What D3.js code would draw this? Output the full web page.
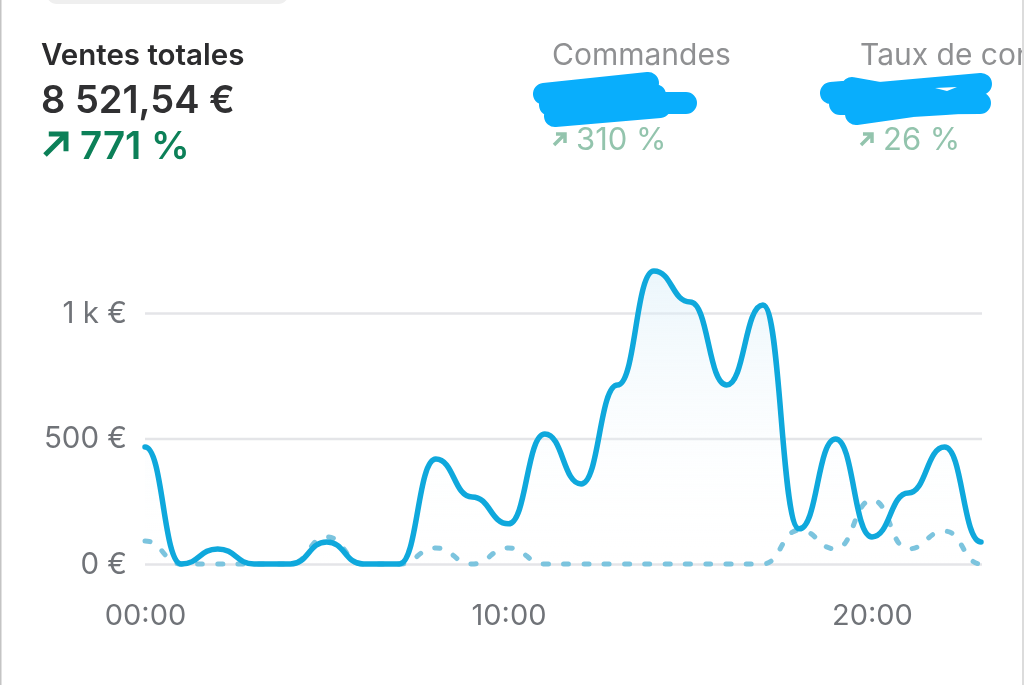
<!DOCTYPE html>
<html>
<head>
<meta charset="utf-8">
<script src="https://cdn.jsdelivr.net/npm/d3@7"></script>
<style>
  html, body { margin: 0; padding: 0; background: #fff; overflow: hidden; }
  svg { display: block; font-family: Inter, "Noto Sans", sans-serif; filter: blur(0.4px); }
</style>
</head>
<body>
<script>
var hours = d3.range(0, 24);
var sales = [466, 0, 60, 0, 0, 88, 0, 0, 418, 267, 160, 518, 319, 713, 1167, 1044, 713, 1032, 140, 498, 108, 283, 466, 88];
var previous = [92, 0, 0, 0, 0, 108, 0, 0, 64, 0, 64, 0, 0, 0, 0, 0, 0, 0, 135, 60, 255, 60, 131, 0];
var yTicks = [0, 500, 1000];
var yLabels = ["0 €", "500 €", "1 k €"];
var xTicks = [0, 10, 20];
var xLabels = ["00:00", "10:00", "20:00"];

var width = 1024, height = 685;

var svg = d3.select("body").append("svg")
    .attr("width", width)
    .attr("height", height);

var x = d3.scaleLinear().domain([0, 23]).range([145, 981]);
var y = d3.scaleLinear().domain([0, 1000]).range([564, 313]);

var defs = svg.append("defs");
var grad = defs.append("linearGradient")
    .attr("id", "areaFill")
    .attr("gradientUnits", "userSpaceOnUse")
    .attr("x1", 0).attr("x2", 0)
    .attr("y1", y(1167)).attr("y2", y(0));
grad.append("stop").attr("offset", "0%").attr("stop-color", "#d8edf8").attr("stop-opacity", 0.5);
grad.append("stop").attr("offset", "100%").attr("stop-color", "#ffffff").attr("stop-opacity", 0);

// y axis + grid
var yAxis = d3.axisLeft(y)
    .tickValues(yTicks)
    .tickSize(-(x.range()[1] - x.range()[0]) - 1)
    .tickPadding(18)
    .tickFormat(function(d, i) { return yLabels[i]; });
var gy = svg.append("g").attr("transform", "translate(145,0)").call(yAxis);
gy.select(".domain").remove();
gy.selectAll(".tick line").attr("stroke", "#e4e5e8").attr("stroke-width", 2.5);
gy.selectAll(".tick text")
    .attr("fill", "#707378")
    .attr("font-size", 29.5)
    .attr("font-family", "Inter, sans-serif");

// x axis
var xAxis = d3.axisBottom(x)
    .tickValues(xTicks)
    .tickSize(0)
    .tickPadding(0)
    .tickFormat(function(d, i) { return xLabels[i]; });
var gx = svg.append("g").attr("transform", "translate(0,604)").call(xAxis);
gx.select(".domain").remove();
gx.selectAll(".tick text")
    .attr("fill", "#707378")
    .attr("font-size", 29)
    .attr("font-family", "Inter, sans-serif");

var area = d3.area()
    .x(function(d, i) { return x(hours[i]); })
    .y0(y(0))
    .y1(function(d) { return y(d); })
    .curve(d3.curveBumpX);

var line = d3.line()
    .x(function(d, i) { return x(hours[i]); })
    .y(function(d) { return y(d); })
    .curve(d3.curveBumpX);

svg.append("path").datum(sales)
    .attr("d", area)
    .attr("fill", "url(#areaFill)");

svg.append("path").datum(previous)
    .attr("d", line)
    .attr("fill", "none")
    .attr("stroke", "#7cc4de")
    .attr("stroke-width", 5)
    .attr("stroke-linecap", "round")
    .attr("stroke-dasharray", "5 15.3");

svg.append("path").datum(sales)
    .attr("d", line)
    .attr("fill", "none")
    .attr("stroke", "#0fa8dc")
    .attr("stroke-width", 5.5)
    .attr("stroke-linecap", "round");

// header numbers
function label(txt, px, py, size, color, weight) {
  return svg.append("text")
      .attr("x", px).attr("y", py)
      .attr("font-size", size)
      .attr("font-weight", weight)
      .attr("fill", color)
      .text(txt);
}

function arrow(px, py, s, color, w) {
  svg.append("path")
      .attr("d", "M0," + s + "L" + s + ",0M" + (s * 0.18) + ",0H" + s + "V" + (s * 0.82))
      .attr("transform", "translate(" + px + "," + py + ")")
      .attr("fill", "none")
      .attr("stroke", color)
      .attr("stroke-width", w);
}

label("Ventes totales", 41, 65, 29.5, "#2b2b2d", 600);
label("8 521,54 €", 41, 113, 38, "#303032", 600);
label("771 %", 80, 159, 38.5, "#0c8058", 600);
arrow(45, 134, 21, "#0c8058", 5);

label("Commandes", 552, 65, 30, "#8f9092", 400);
label("310 %", 576, 150, 31, "#93c4ad", 400);
arrow(554, 134, 11, "#93c4ad", 3.5);

label("Taux de conversion", 860, 65, 30, "#8f9092", 400);
label("26 %", 883, 150, 31, "#93c4ad", 400);
arrow(861, 134, 11, "#93c4ad", 3.5);

// scribbled-out values
var scribbles = [
  "M544,94L648,83 M555,116L660,107 M660,103L686,103 M550,105L655,95",
  "M831,93L855,91 M852,88L880,93L981,84 M840,104L980,103 M856,114L912,106L978,102"
];
svg.selectAll(".scribble").data(scribbles).enter().append("path")
    .attr("class", "scribble")
    .attr("d", function(d) { return d; })
    .attr("fill", "none")
    .attr("stroke", "#09aefc")
    .attr("stroke-width", 22)
    .attr("stroke-linecap", "round")
    .attr("stroke-linejoin", "round");
svg.append("path").attr("d", "M935,88L957,87L947,91Z").attr("fill", "#fff");

// card edges and the bit of pill at the top
svg.append("rect").attr("x", 0).attr("y", 0).attr("width", 1.5).attr("height", height).attr("fill", "#c4c4c4");
svg.append("rect").attr("x", 1022).attr("y", 0).attr("width", 2).attr("height", height).attr("fill", "#dcdcdc");
svg.append("rect").attr("x", 46).attr("y", -20).attr("width", 243).attr("height", 24).attr("rx", 11).attr("fill", "#efefef");
</script>
</body>
</html>
